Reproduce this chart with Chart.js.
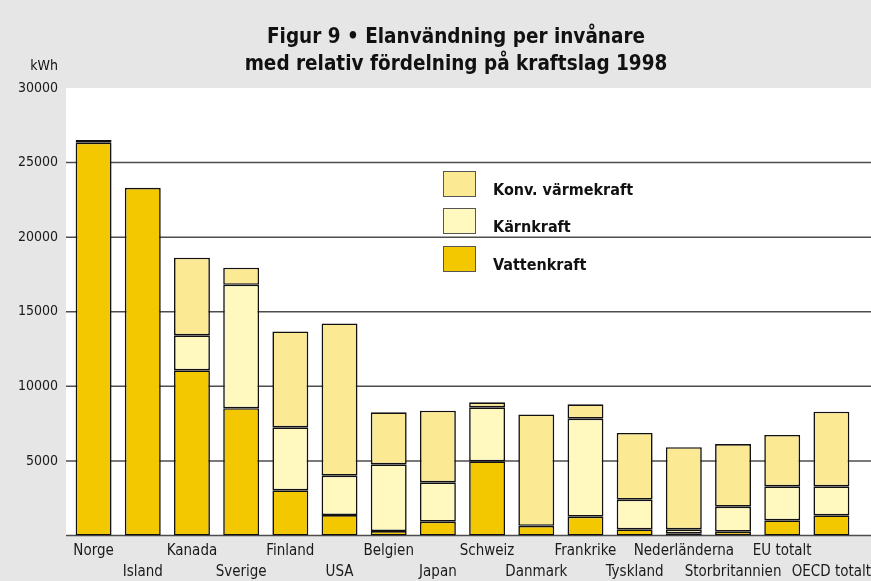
<!DOCTYPE html>
<html>
<head>
<meta charset="utf-8">
<script src="https://cdn.jsdelivr.net/npm/chart.js@4"></script>
<style>
  body { margin: 0; background: #e6e6e6; }
  #wrap { width: 871px; height: 581px; }
</style>
</head>
<body>
<div id="wrap"><canvas id="myChart" width="871" height="581"></canvas></div>
<script>
`use strict`;

const countries = ['Norge', 'Island', 'Kanada', 'Sverige', 'Finland', 'USA', 'Belgien', 'Japan',
  'Schweiz', 'Danmark', 'Frankrike', 'Tyskland', 'Nederländerna', 'Storbritannien', 'EU totalt', 'OECD totalt'];
const vattenkraft = [26330, 23310, 11070, 8530, 3030, 1370, 300, 925, 4970, 650, 1260, 415, 150, 255, 1020, 1350];
const karnkraft = [0, 0, 2350, 8280, 4220, 2640, 4470, 2640, 3620, 0, 6570, 1985, 265, 1675, 2280, 1945];
const konvVarme = [180, 0, 5200, 1140, 6430, 10210, 3490, 4800, 340, 7470, 965, 4470, 5500, 4200, 3440, 5000];
const yTicks = [5000, 10000, 15000, 20000, 25000, 30000];

const titleLines = ['Figur 9 • Elanvändning per invånare', 'med relativ fördelning på kraftslag 1998'];

const FONT = "'DejaVu Sans Condensed', 'Liberation Sans Narrow', sans-serif";

// two rows of labels, every second one goes down
const labels = countries.map((c, i) => i % 2 == 0 ? [c, ''] : ['', c]);

const colHydro = '#f3c800';
const colNuclear = '#fff9c0';
const colConv = '#fbe993';

const bgPlugin = {
  id: 'bg',
  beforeDraw(chart) {
    const ctx = chart.ctx;
    const y = chart.scales.y;
    ctx.save();
    ctx.fillStyle = '#e6e6e6';
    ctx.fillRect(0, 0, chart.width, chart.height);
    ctx.fillStyle = '#ffffff';
    ctx.fillRect(66, y.getPixelForValue(30000), chart.width - 66, y.getPixelForValue(0) - y.getPixelForValue(30000));
    // grid lines
    ctx.strokeStyle = '#4d4d4d';
    ctx.lineWidth = 1.5;
    for (let v of [0, 5000, 10000, 15000, 20000, 25000]) {
      const py = y.getPixelForValue(v);
      ctx.beginPath();
      ctx.moveTo(66, py);
      ctx.lineTo(chart.width, py);
      ctx.stroke();
    }
    // title
    ctx.fillStyle = '#111';
    ctx.font = 'bold 20.5px ' + FONT;
    ctx.textAlign = 'center';
    ctx.textBaseline = 'middle';
    ctx.fillText(titleLines[0], 456, 38);
    ctx.fillText(titleLines[1], 456, 65);
    ctx.font = '14px ' + FONT;
    ctx.textAlign = 'right';
    ctx.fillText('kWh', 58, 66);
    ctx.restore();
  },
  afterDraw(chart) {
    const ctx = chart.ctx;
    const items = [['Konv. värmekraft', colConv, 171], ['Kärnkraft', colNuclear, 208], ['Vattenkraft', colHydro, 246]];
    ctx.save();
    ctx.font = 'bold 16px ' + FONT;
    ctx.textAlign = 'left';
    ctx.textBaseline = 'alphabetic';
    for (let it of items) {
      ctx.fillStyle = it[1];
      ctx.fillRect(443, it[2], 32, 25);
      ctx.strokeStyle = '#555';
      ctx.lineWidth = 1;
      ctx.strokeRect(443.5, it[2] + 0.5, 32, 25);
      ctx.fillStyle = '#111';
      ctx.fillText(it[0], 493, it[2] + 24);
    }
    ctx.restore();
  }
};

const data = {
  labels: labels,
  datasets: [
    { label: 'Vattenkraft', data: vattenkraft, backgroundColor: colHydro },
    { label: 'Kärnkraft', data: karnkraft, backgroundColor: colNuclear },
    { label: 'Konv. värmekraft', data: konvVarme, backgroundColor: colConv }
  ].map(d => Object.assign(d, {
    borderColor: '#111',
    borderWidth: 1.6,
    borderSkipped: false,
    barPercentage: 0.73,
    categoryPercentage: 1
  }))
};

const config = {
  type: 'bar',
  data: data,
  options: {
    responsive: false,
    animation: false,
    layout: { padding: { top: 88, right: 15, left: 0, bottom: 0 } },
    plugins: { legend: { display: false }, tooltip: { enabled: false } },
    scales: {
      x: {
        stacked: true,
        border: { display: false },
        grid: { display: false, drawTicks: false },
        ticks: { color: '#1a1a1a', font: { family: FONT, size: 15, lineHeight: 1.4 }, padding: 5, maxRotation: 0, autoSkip: false },
        afterFit: s => { s.height = 45.5; s.paddingLeft = 0; s.paddingRight = 0; }
      },
      y: {
        stacked: true,
        min: 0,
        max: 30000,
        border: { display: false },
        grid: { display: false, drawTicks: false },
        afterBuildTicks: s => { s.ticks = yTicks.map(v => ({ value: v })); },
        ticks: { color: '#1a1a1a', font: { family: FONT, size: 14 }, padding: 11, callback: v => String(v) },
        afterFit: s => { s.width = 69; }
      }
    }
  },
  plugins: [bgPlugin]
};

const myChart = new Chart(document.getElementById('myChart'), config);
</script>
</body>
</html>
